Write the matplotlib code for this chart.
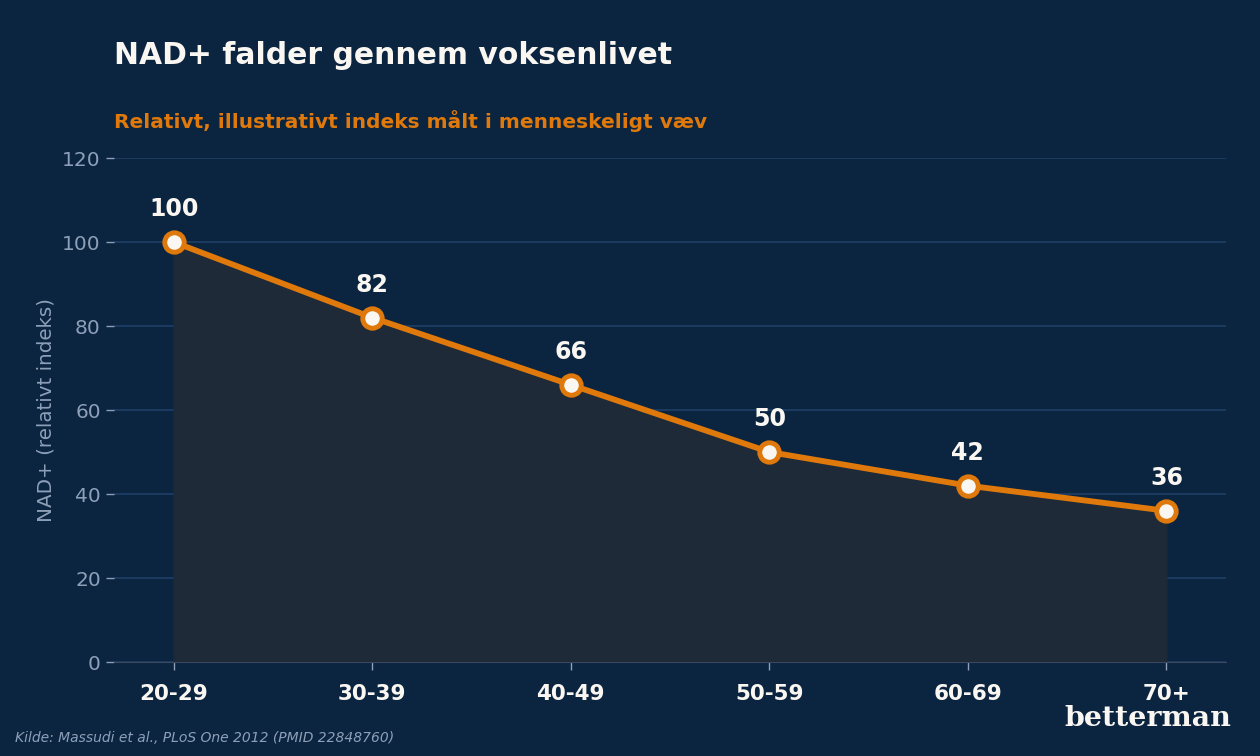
import numpy as np
import matplotlib.pyplot as plt

ages = ['20-29', '30-39', '40-49', '50-59', '60-69', '70+']
nad = [100, 82, 66, 50, 42, 36]

BG = '#0B2440'
ORANGE = '#DF790B'
GRID = '#1F3F66'
MUTED = '#8DA0B8'
WHITE = '#FAF7F2'

fig = plt.figure(figsize=(12.6, 7.56), dpi=100, facecolor=BG)
ax = fig.add_axes([0.0905, 0.1243, 0.8825, 0.6667])
ax.set_facecolor(BG)

x = np.arange(len(ages))
ax.fill_between(x, nad, 0, color='#1E2A38', zorder=1)
ax.plot(x, nad, color=ORANGE, lw=4.2, zorder=3,
        marker='o', ms=14, mfc=WHITE, mec=ORANGE, mew=3.5)
for xi, v in zip(x, nad):
    ax.text(xi, v + 5, str(v), ha='center', va='bottom', color=WHITE,
            fontsize=17, fontweight='bold', zorder=4)

ax.set_xlim(-0.3, 5.3)
ax.set_ylim(0, 120)
ax.set_yticks(range(0, 121, 20))
ax.set_xticks(x)
ax.set_xticklabels(ages, color=WHITE, fontsize=15.5, fontweight='bold')
ax.tick_params(axis='y', colors=MUTED, labelsize=14.5, length=6, width=1)
ax.tick_params(axis='x', colors=MUTED, length=6, width=1, pad=10)
for lbl in ax.get_xticklabels():
    lbl.set_color(WHITE)
ax.grid(axis='y', color=GRID, lw=1.2, zorder=0)
ax.set_axisbelow(True)
for s in ['top', 'right', 'left']:
    ax.spines[s].set_visible(False)
ax.spines['bottom'].set_color('#3A4A5C')
ax.set_ylabel('NAD+ (relativt indeks)', color=MUTED, fontsize=14.3, labelpad=5)

fig.text(0.0905, 0.927, 'NAD+ falder gennem voksenlivet', color=WHITE,
         fontsize=21.5, fontweight='bold', va='center')
fig.text(0.0905, 0.84, 'Relativt, illustrativt indeks målt i menneskeligt væv',
         color=ORANGE, fontsize=14.5, fontweight='bold', va='center')
fig.text(0.012, 0.024, 'Kilde: Massudi et al., PLoS One 2012 (PMID 22848760)',
         color=MUTED, fontsize=10, style='italic', va='center')
fig.text(0.977, 0.05, 'betterman', color=WHITE, fontsize=20.5,
         fontweight='heavy', family='DejaVu Serif', ha='right', va='center')

fig.savefig('out.png', facecolor=BG)
